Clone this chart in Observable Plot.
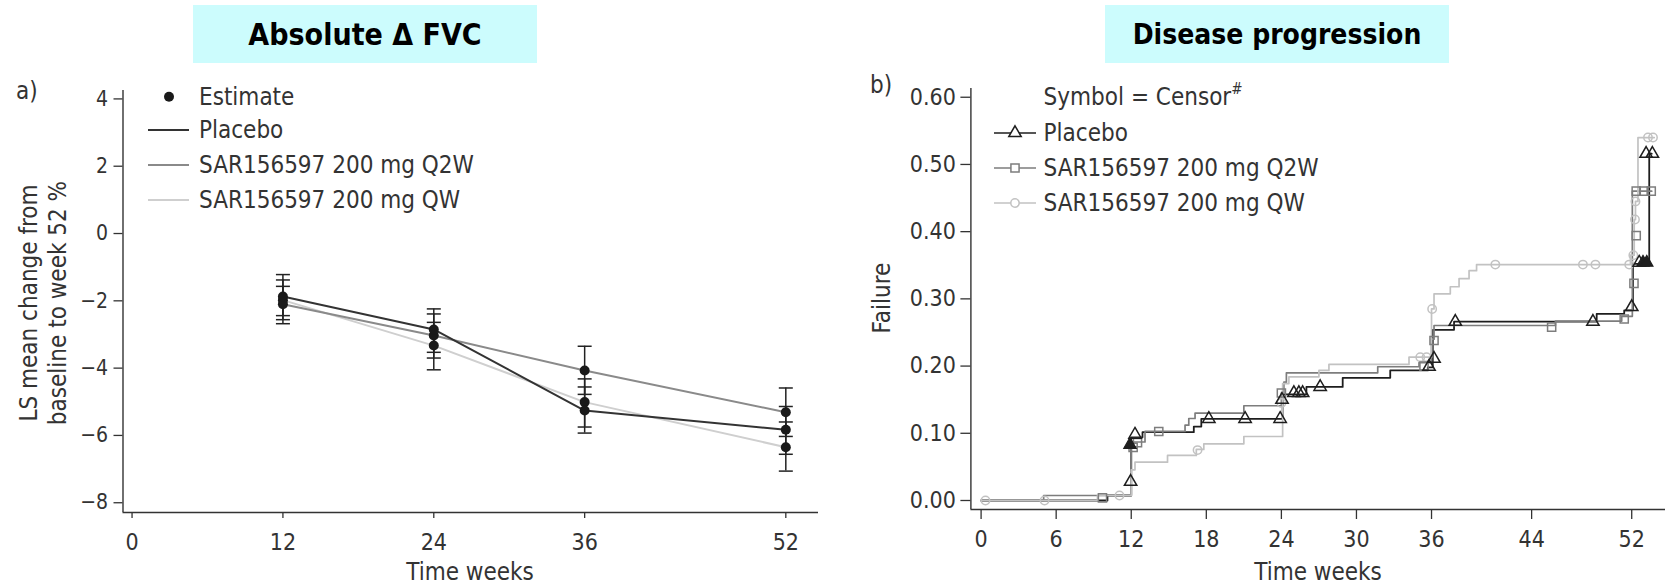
<!DOCTYPE html>
<html><head><meta charset="utf-8">
<script src="https://cdn.jsdelivr.net/npm/d3@7"></script>
<script src="https://cdn.jsdelivr.net/npm/@observablehq/plot@0.6"></script>
<style>
html,body{margin:0;padding:0;background:#fff;}
#root{position:relative;width:1667px;height:585px;overflow:hidden;background:#fff;font-family:"DejaVu Sans Condensed","DejaVu Sans",sans-serif;}
.panel{position:absolute;top:0;height:585px;}
.title{position:absolute;top:5px;height:58px;width:344px;background:#ccfcfd;display:flex;align-items:center;justify-content:center;font-weight:bold;color:#000;font-family:"DejaVu Sans Condensed","DejaVu Sans",sans-serif;}
#overlay{position:absolute;left:0;top:0;}
</style></head><body>
<div id="root">
<div id="left" class="panel" style="left:0;width:830px"></div>
<div id="right" class="panel" style="left:830px;width:837px"></div>
<div class="title" style="left:193px;font-size:30px">Absolute Δ FVC</div>
<div class="title" style="left:1105px;font-size:28px">Disease progression</div>
<svg id="overlay" width="1667" height="585"></svg>
</div>
<script>
const FONT = '"DejaVu Sans Condensed","DejaVu Sans",sans-serif';
const INK = "#333";

// ---------- Panel a: Absolute change in FVC ----------
const fvcWeeks = [12, 24, 36, 52];
const fvcSeries = ["Placebo", "SAR156597 200 mg Q2W", "SAR156597 200 mg QW"];
const fvcColors = ["#333333", "#8a8a8a", "#cfcfcf"];
const placeboEst = [-1.87, -2.85, -5.26, -5.83];
const placeboLo  = [-2.44, -3.53, -5.93, -6.56];
const placeboHi  = [-1.22, -2.24, -4.56, -5.14];
const q2wEst = [-2.10, -3.03, -4.07, -5.31];
const q2wLo  = [-2.68, -3.70, -4.78, -6.03];
const q2wHi  = [-1.57, -2.39, -3.35, -4.59];
const qwEst = [-1.98, -3.33, -5.01, -6.35];
const qwLo  = [-2.56, -4.05, -5.75, -7.06];
const qwHi  = [-1.38, -2.64, -4.32, -5.60];
const fvcYTicks = [-8, -6, -4, -2, 0, 2, 4];
const fvcXTicks = [0, 12, 24, 36, 52];

// ---------- Panel b: Disease progression (KM failure) ----------
const kmXTicks = [0, 6, 12, 18, 24, 30, 36, 44, 52];
const kmYTicks = [0, 0.1, 0.2, 0.3, 0.4, 0.5, 0.6];
const kmSeries = ["Placebo", "SAR156597 200 mg Q2W", "SAR156597 200 mg QW"];
const kmColors = ["#1e1e1e", "#7d7d7d", "#c2c2c2"];
const placeboT = [0,10.1,12.0,12.9,17.0,17.6,24.1,26.0,28.9,32.7,35.7,36.1,37.8,49.2,51.4,52.1,53.4,53.6];
const placeboS = [0,0.0074,0.094,0.1017,0.110,0.1215,0.158,0.169,0.1825,0.1935,0.198,0.254,0.266,0.2778,0.283,0.352,0.516,0.516];
const q2wT = [0,5.0,12.0,13.1,16.3,16.6,17.1,21.0,24.0,24.2,24.4,31.7,35.0,36.0,36.2,45.9,51.2,52.05,53.6];
const q2wS = [0,0.0074,0.087,0.1027,0.112,0.122,0.130,0.141,0.160,0.176,0.190,0.199,0.205,0.240,0.2604,0.267,0.274,0.4603,0.4603];
const qwT = [0,9.3,12.0,12.3,14.9,17.2,17.8,21.0,24.1,24.6,27.0,27.8,34.2,36.0,36.2,37.5,38.2,39.0,39.6,51.9,52.2,52.3,52.5,53.8];
const qwS = [0,0.0074,0.0457,0.057,0.067,0.076,0.0843,0.0952,0.174,0.184,0.1935,0.2024,0.2133,0.285,0.3075,0.318,0.330,0.342,0.351,0.365,0.418,0.445,0.540,0.540];
const placeboCensT = [11.95,12.3,18.2,21.1,23.9,24.05,25.0,25.4,25.7,27.1,35.8,36.2,37.9,48.9,52.0,52.6,53.15,53.65];
const placeboCensS = [0.028,0.098,0.1215,0.1215,0.1215,0.150,0.160,0.160,0.160,0.169,0.199,0.211,0.266,0.266,0.288,0.354,0.516,0.516];
const placeboFilledT = [11.9, 52.9, 53.2];
const placeboFilledS = [0.083, 0.354, 0.354];
const q2wCensT = [9.7,12.15,12.5,14.2,24.0,35.4,36.2,45.6,51.4,52.18,52.36,52.36,52.97,53.56];
const q2wCensS = [0.004,0.079,0.086,0.1027,0.160,0.200,0.238,0.258,0.270,0.323,0.394,0.4603,0.4603,0.4603];
const qwCensT = [0.35,5.07,11.06,17.3,24.0,35.1,35.6,36.05,41.1,48.1,49.1,51.8,52.13,52.26,52.3,53.3,53.7];
const qwCensS = [0,0,0.0074,0.075,0.145,0.2133,0.2133,0.285,0.351,0.351,0.351,0.351,0.365,0.418,0.445,0.540,0.540];

// ---------- build tables ----------
const fvcRows = (name, est, lo, hi) => fvcWeeks.map((w, i) => ({series: name, week: w, est: est[i], lo: lo[i], hi: hi[i]}));
const fvcP = fvcRows(fvcSeries[0], placeboEst, placeboLo, placeboHi);
const fvcQ2 = fvcRows(fvcSeries[1], q2wEst, q2wLo, q2wHi);
const fvcQ1 = fvcRows(fvcSeries[2], qwEst, qwLo, qwHi);
const fvcAll = [...fvcQ1, ...fvcQ2, ...fvcP];
const pts = (T, S) => T.map((t, i) => ({t, s: S[i]}));

const capSymbol = {draw(ctx) { ctx.moveTo(-7, 0); ctx.lineTo(7, 0); }};
const minus = d => d < 0 ? "\u2212" + (-d) : String(d);

const fvcXDom = [-0.72, 54.6], fvcYDom = [-8.29, 4.25];
const left = Plot.plot({
  width: 830, height: 585,
  marginLeft: 122.5, marginRight: 12, marginTop: 90, marginBottom: 73,
  style: {background: "transparent", fontFamily: FONT, color: INK, overflow: "visible"},
  x: {domain: fvcXDom},
  y: {domain: fvcYDom},
  marks: [
    Plot.axisY({ticks: fvcYTicks, tickFormat: minus, tickSize: 9, tickPadding: 6, fontSize: 21, label: null, strokeWidth: 1.3}),
    Plot.axisX({ticks: fvcXTicks, tickSize: 6, tickPadding: 15, fontSize: 23, label: null, strokeWidth: 1.3}),
    Plot.ruleX([fvcXDom[0]], {stroke: INK, strokeWidth: 1.4}),
    Plot.ruleY([fvcYDom[0]], {stroke: INK, strokeWidth: 1.4}),
    Plot.line(fvcQ1, {x: "week", y: "est", stroke: fvcColors[2], strokeWidth: 2}),
    Plot.line(fvcQ2, {x: "week", y: "est", stroke: fvcColors[1], strokeWidth: 2}),
    Plot.line(fvcP, {x: "week", y: "est", stroke: fvcColors[0], strokeWidth: 2}),
    Plot.ruleX(fvcAll, {x: "week", y1: "lo", y2: "hi", stroke: "#222", strokeWidth: 1.5}),
    Plot.dot(fvcAll, {x: "week", y: "lo", symbol: capSymbol, stroke: "#222", fill: "none", strokeWidth: 1.5}),
    Plot.dot(fvcAll, {x: "week", y: "hi", symbol: capSymbol, stroke: "#222", fill: "none", strokeWidth: 1.5}),
    Plot.dot(fvcAll, {x: "week", y: "est", r: 5, fill: "#1a1a1a"})
  ]
});
document.getElementById("left").appendChild(left);

const kmXDom = [-0.815, 54.7], kmYDom = [-0.0134, 0.613];
const right = Plot.plot({
  width: 837, height: 585,
  marginLeft: 140.4, marginRight: 2, marginTop: 88, marginBottom: 76,
  style: {background: "transparent", fontFamily: FONT, color: INK, overflow: "visible"},
  x: {domain: kmXDom},
  y: {domain: kmYDom},
  marks: [
    Plot.axisY({ticks: kmYTicks, tickFormat: d3.format(".2f"), tickSize: 10, tickPadding: 5, fontSize: 23, label: null, strokeWidth: 1.3}),
    Plot.axisX({ticks: kmXTicks, tickSize: 10, tickPadding: 11, fontSize: 23, label: null, strokeWidth: 1.3}),
    Plot.ruleX([kmXDom[0]], {stroke: INK, strokeWidth: 1.4}),
    Plot.ruleY([kmYDom[0]], {stroke: INK, strokeWidth: 1.4}),
    Plot.line(pts(placeboT, placeboS), {x: "t", y: "s", curve: "step-after", stroke: kmColors[0], strokeWidth: 1.8}),
    Plot.line(pts(q2wT, q2wS), {x: "t", y: "s", curve: "step-after", stroke: kmColors[1], strokeWidth: 1.7}),
    Plot.line(pts(qwT, qwS), {x: "t", y: "s", curve: "step-after", stroke: kmColors[2], strokeWidth: 1.7}),
    Plot.dot(pts(qwCensT, qwCensS), {x: "t", y: "s", symbol: "circle", r: 4.2, stroke: kmColors[2], fill: "none", strokeWidth: 1.5}),
    Plot.dot(pts(q2wCensT, q2wCensS), {x: "t", y: "s", symbol: "square", r: 4.6, stroke: kmColors[1], fill: "none", strokeWidth: 1.5}),
    Plot.dot(pts(placeboCensT, placeboCensS), {x: "t", y: "s", symbol: "triangle", r: 4.6, stroke: kmColors[0], fill: "none", strokeWidth: 1.5}),
    Plot.dot(pts(placeboFilledT, placeboFilledS), {x: "t", y: "s", symbol: "triangle", r: 4.6, stroke: kmColors[0], fill: kmColors[0], strokeWidth: 1.2})
  ]
});
document.getElementById("right").appendChild(right);

// ---------- axis titles, legends and panel letters ----------
const ov = d3.select("#overlay");
const T = (x, y, txt, size = 24, anchor = "start", rot = 0) => ov.append("text")
  .attr("transform", `translate(${x},${y}) rotate(${rot})`)
  .attr("font-size", size).attr("font-family", FONT).attr("fill", INK)
  .attr("text-anchor", anchor).attr("dominant-baseline", "central").text(txt);

T(470, 572, "Time weeks", 24, "middle");
T(1318, 572, "Time weeks", 24, "middle");
T(29, 303, "LS mean change from", 24, "middle", -90);
T(58, 303, "baseline to week 52 %", 24, "middle", -90);
T(882, 298, "Failure", 24, "middle", -90);

T(16, 91, "a)");
T(870, 85, "b)");

ov.append("circle").attr("cx", 169).attr("cy", 96.7).attr("r", 5).attr("fill", "#1a1a1a");
T(199, 96.7, "Estimate");
fvcSeries.forEach((s, i) => {
  const y = 130 + i * 35;
  ov.append("line").attr("x1", 148).attr("x2", 189).attr("y1", y).attr("y2", y)
    .attr("stroke", fvcColors[i]).attr("stroke-width", 2);
  T(199, y, s);
});

const head = T(1043.6, 97, "Symbol = Censor");
head.append("tspan").attr("font-size", 15).attr("dy", -8).text("#");
const legSyms = [d3.symbolTriangle, d3.symbolSquare, d3.symbolCircle];
const legR = [4.6, 4.6, 4.2];
kmSeries.forEach((s, i) => {
  const y = 133 + i * 35;
  ov.append("line").attr("x1", 994).attr("x2", 1036).attr("y1", y).attr("y2", y)
    .attr("stroke", kmColors[i]).attr("stroke-width", 1.7);
  ov.append("path").attr("d", d3.symbol().type(legSyms[i]).size(Math.PI * legR[i] * legR[i])())
    .attr("transform", `translate(1015,${y})`).attr("fill", "#fff")
    .attr("stroke", kmColors[i]).attr("stroke-width", 1.5);
  T(1043.6, y, s);
});
</script>
</body></html>
